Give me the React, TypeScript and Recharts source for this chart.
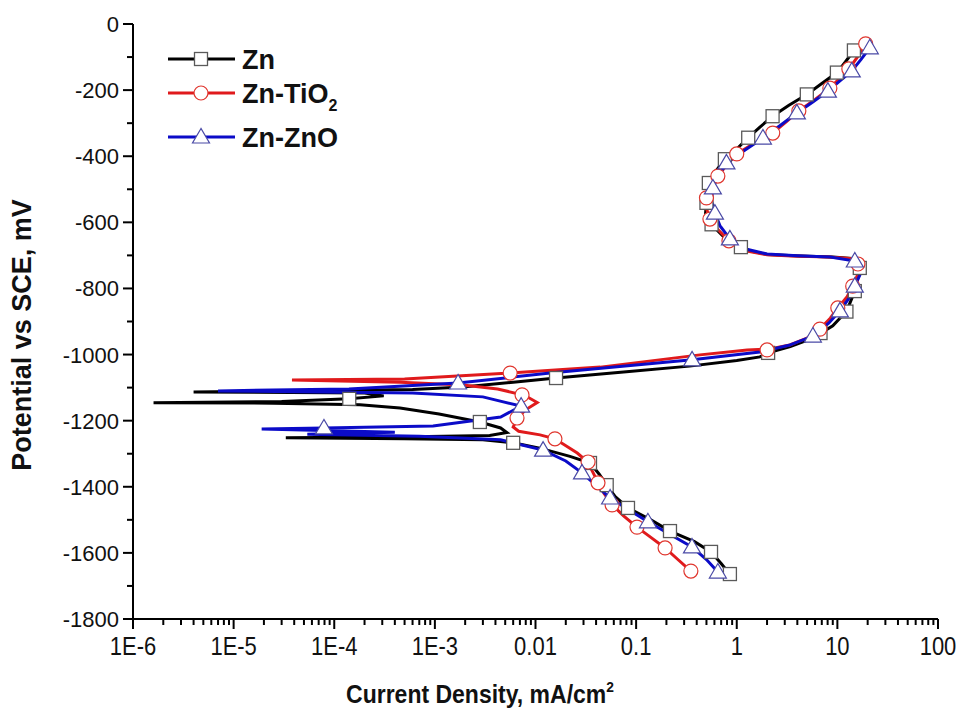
import React from 'react';
import { ComposedChart, Line, XAxis, YAxis, Legend } from 'recharts';

const FONT = "'Liberation Sans', Arial, Helvetica, sans-serif";

// x axis: log decades (mA/cm2)
const xDecades = [1e-6, 1e-5, 1e-4, 1e-3, 0.01, 0.1, 1, 10, 100];
const xDecadeLabels = ['1E-6', '1E-5', '1E-4', '1E-3', '0.01', '0.1', '1', '10', '100'];
const xMinorSteps = [2, 3, 4, 5, 6, 7, 8, 9];
const xTicks = [
  ...xDecades,
  ...xDecades.slice(0, -1).flatMap((d) => xMinorSteps.map((m) => d * m)),
].sort((a, b) => a - b);

// y axis: potential (mV)
const yTicks = [
  -1800, -1700, -1600, -1500, -1400, -1300, -1200, -1100, -1000, -900,
  -800, -700, -600, -500, -400, -300, -200, -100, 0,
];

const seriesNames = ['Zn', 'Zn-TiO', 'Zn-ZnO'];
const seriesSubs = ['', '2', ''];

// [current density mA/cm2, potential mV], in scan order
const znCurve = [
  [0.84, -1662], [0.7, -1632], [0.555, -1597], [0.38, -1566], [0.217, -1534],
  [0.14, -1500], [0.083, -1464], [0.062, -1430], [0.051, -1395], [0.043, -1362],
  [0.035, -1328], [0.022, -1308], [0.011, -1283], [0.006, -1267], [0.003, -1258],
  [0.0005, -1255], [3.3e-5, -1252], [0.0006, -1249], [0.0035, -1245], [0.0052, -1236],
  [0.0045, -1222], [0.0028, -1204], [0.0011, -1180], [0.00045, -1162], [0.00018, -1152],
  [2.5e-5, -1147], [1.6e-6, -1146], [3e-5, -1142], [0.00014, -1134], [0.00031, -1125],
  [0.0002, -1116], [4e-6, -1113], [4e-5, -1110], [0.0006, -1106], [0.0019, -1098],
  [0.006, -1084], [0.016, -1071], [0.08, -1052], [0.34, -1035], [1.0, -1018],
  [1.7, -1007], [2.05, -995], [3.4, -976], [5.7, -950], [9.0, -913],
  [12.4, -868], [14.9, -808], [16.0, -768], [16.7, -738], [14.9, -710],
  [9.0, -705], [4.2, -702], [2.0, -697], [1.4, -688], [1.1, -675],
  [0.75, -645], [0.56, -606], [0.49, -572], [0.5, -541], [0.51, -510],
  [0.53, -481], [0.62, -445], [0.76, -409], [1.0, -378], [1.3, -344],
  [1.7, -312], [2.27, -279], [3.3, -246], [4.97, -213], [7.0, -180],
  [9.9, -147], [12, -115], [14.6, -80], [15.8, -66],
];
const znMarks = [
  [0.855, -1664], [0.555, -1597], [0.217, -1534], [0.083, -1464], [0.051, -1395],
  [0.0348, -1328], [0.006, -1267], [0.0028, -1204], [0.000141, -1134], [0.016, -1071],
  [2.05, -995], [6.8, -935], [12.3, -870], [14.9, -808], [16.7, -738],
  [1.1, -675], [0.562, -606], [0.5, -541], [0.528, -481], [0.762, -409],
  [1.3, -344], [2.27, -279], [4.97, -213], [9.89, -147], [14.6, -80],
];

const tio2Curve = [
  [0.35, -1655], [0.26, -1620], [0.194, -1585], [0.14, -1553], [0.102, -1522],
  [0.075, -1488], [0.058, -1455], [0.048, -1420], [0.042, -1388], [0.037, -1355],
  [0.033, -1325], [0.026, -1298], [0.0156, -1255], [0.0111, -1243], [0.0068, -1232],
  [0.006, -1219], [0.0066, -1192], [0.0079, -1168], [0.0104, -1145], [0.0085, -1130],
  [0.0074, -1122], [0.0042, -1104], [0.0019, -1092], [0.00045, -1084], [3.8e-5, -1077],
  [0.0005, -1074], [0.0056, -1056], [0.044, -1038], [0.43, -1001], [1.27, -986],
  [2.13, -983], [3.37, -971], [5.0, -950], [6.7, -923], [8.5, -890],
  [10.1, -859], [12.5, -825], [14.2, -793], [15.8, -760], [16.0, -726],
  [14.5, -710], [8.0, -705], [3.5, -702], [2.0, -698], [1.3, -688],
  [1.05, -675], [0.836, -656], [0.65, -622], [0.541, -590], [0.5, -558],
  [0.5, -526], [0.56, -492], [0.649, -460], [0.8, -425], [1.0, -393],
  [1.5, -360], [2.28, -330], [3.1, -296], [4.14, -263], [6.0, -228],
  [8.42, -194], [10.5, -165], [13.0, -136], [16, -98], [19.1, -60],
];
const tio2Marks = [
  [0.35, -1655], [0.194, -1585], [0.102, -1522], [0.0577, -1455], [0.0418, -1388],
  [0.0333, -1325], [0.0156, -1255], [0.00655, -1192], [0.00735, -1122], [0.0056, -1056],
  [2.0, -986], [6.7, -923], [10.1, -859], [14.2, -793], [16.0, -726],
  [0.836, -656], [0.541, -590], [0.5, -526], [0.649, -460], [1.0, -393],
  [2.28, -330], [4.14, -263], [8.42, -194], [13.0, -136], [19.1, -60],
];

const znoCurve = [
  [0.649, -1658], [0.5, -1620], [0.359, -1582], [0.22, -1545], [0.131, -1506],
  [0.085, -1470], [0.0551, -1434], [0.04, -1396], [0.029, -1358], [0.02, -1322],
  [0.0119, -1289], [0.0045, -1258], [0.0007, -1247], [5.4e-5, -1241], [0.0004, -1235],
  [1.9e-5, -1225], [7.9e-5, -1222], [0.00096, -1216], [0.0045, -1189], [0.0072, -1156],
  [0.003, -1128], [0.0006, -1116], [7e-6, -1110], [0.00014, -1104], [0.0017, -1086],
  [0.014, -1056], [0.36, -1016], [1.7, -992], [3.3, -972], [5.71, -944],
  [8.2, -905], [10.6, -868], [13, -830], [14.9, -793], [16.7, -760],
  [14.9, -717], [8.5, -705], [4.0, -701], [2.0, -696], [1.2, -680],
  [0.855, -650], [0.68, -610], [0.607, -572], [0.56, -534], [0.579, -496],
  [0.66, -458], [0.79, -420], [1.2, -382], [1.82, -345], [2.7, -307],
  [3.96, -269], [5.7, -236], [8.05, -203], [10.6, -172], [13.9, -142],
  [17.2, -107], [21.0, -72],
];
const znoMarks = [
  [0.649, -1658], [0.359, -1582], [0.131, -1506], [0.0551, -1434], [0.029, -1358],
  [0.0119, -1289], [7.9e-5, -1222], [0.0072, -1156], [0.0017, -1086], [0.36, -1016],
  [5.71, -944], [10.6, -868], [14.9, -793], [14.9, -717], [0.855, -650],
  [0.607, -572], [0.579, -496], [0.79, -420], [1.82, -345], [3.96, -269],
  [8.05, -203], [13.9, -142], [21.0, -72],
];

const toPts = (rows: number[][]) => rows.map(([i, E]) => ({ i, E }));

const COLORS = ['#000000', '#e01a1c', '#0b0bc8'];
const MARK_STROKE = ['#5a5a5a', '#e0362e', '#4a4aa6'];

function Marker({ kind, cx, cy }: { kind: number; cx: number; cy: number }) {
  if (kind === 0)
    return <rect x={cx - 6.5} y={cy - 6.5} width={13} height={13} fill="#fff" stroke={MARK_STROKE[0]} strokeWidth={1.3} />;
  if (kind === 1)
    return <circle cx={cx} cy={cy} r={7} fill="#fff" stroke={MARK_STROKE[1]} strokeWidth={1.2} />;
  return (
    <polygon
      points={`${cx},${cy - 8.5} ${cx - 8.5},${cy + 6} ${cx + 8.5},${cy + 6}`}
      fill="#fff"
      stroke={MARK_STROKE[2]}
      strokeWidth={1.2}
    />
  );
}

const markDot = (kind: number) => (props: any) => {
  const { cx, cy, index } = props;
  if (cx == null || cy == null) return <g key={index} />;
  return (
    <g key={index}>
      <Marker kind={kind} cx={cx} cy={cy} />
    </g>
  );
};

function XTick(props: any) {
  const { x, y, payload } = props;
  const v = payload.value;
  const idx = xDecades.findIndex((d) => Math.abs(d - v) / d < 1e-6);
  const major = idx >= 0;
  return (
    <g>
      <line x1={x} x2={x} y1={y} y2={y + (major ? 10 : 6)} stroke="#000" strokeWidth={2} />
      {major && (
        <text
          transform={`translate(${x},${y + 36}) scale(0.88,1)`}
          textAnchor="middle"
          fontSize={25}
          fontFamily={FONT}
          fill="#111"
        >
          {xDecadeLabels[idx]}
        </text>
      )}
    </g>
  );
}

function YTick(props: any) {
  const { x, y, payload } = props;
  const v = payload.value;
  const major = v % 200 === 0;
  return (
    <g>
      <line x1={x} x2={x - (major ? 10 : 6)} y1={y} y2={y} stroke="#000" strokeWidth={2} />
      {major && (
        <text x={x - 14} y={y + 8} textAnchor="end" fontSize={22} fontFamily={FONT} fill="#111">
          {v}
        </text>
      )}
    </g>
  );
}

function XTitle() {
  return (
    <text
      transform="translate(480,703) scale(0.92,1)"
      textAnchor="middle"
      fontSize={25}
      fontWeight="bold"
      fontFamily={FONT}
      fill="#111"
    >
      Current Density, mA/cm
      <tspan dy={-11} fontSize={15}>2</tspan>
    </text>
  );
}

function YTitle() {
  return (
    <text
      transform="translate(31,335) rotate(-90)"
      textAnchor="middle"
      fontSize={27}
      fontWeight="bold"
      fontFamily={FONT}
      fill="#111"
    >
      Potential vs SCE, mV
    </text>
  );
}

function LegendBox() {
  const rowY = [20, 54, 98];
  return (
    <svg width={280} height={130}>
      {seriesNames.map((name, k) => (
        <g key={name}>
          <line x1={2} x2={69} y1={rowY[k]} y2={rowY[k]} stroke={COLORS[k]} strokeWidth={3} />
          <Marker kind={k} cx={35} cy={rowY[k]} />
          <text x={76} y={rowY[k] + 10} fontSize={27} fontWeight="bold" fontFamily={FONT} fill="#111">
            {name}
            {seriesSubs[k] && (
              <tspan dy={8} fontSize={16}>
                {seriesSubs[k]}
              </tspan>
            )}
          </text>
        </g>
      ))}
    </svg>
  );
}

const curves = [toPts(znCurve), toPts(tio2Curve), toPts(znoCurve)];
const marks = [toPts(znMarks), toPts(tio2Marks), toPts(znoMarks)];

export default function App() {
  return (
    <div style={{ position: 'absolute', left: 0, top: 0, width: 961, height: 712, background: '#fff' }}>
      <ComposedChart width={961} height={712} margin={{ top: 24, right: 23, bottom: 0, left: 0 }}>
        <XAxis
          xAxisId="b"
          dataKey="i"
          type="number"
          scale="log"
          domain={[1e-6, 100]}
          allowDataOverflow
          ticks={xTicks}
          interval={0}
          tick={<XTick />}
          tickLine={false}
          tickSize={0}
          tickMargin={0}
          height={93}
          axisLine={{ stroke: '#000', strokeWidth: 2 }}
          label={<XTitle />}
        />
        <XAxis
          xAxisId="t"
          orientation="top"
          dataKey="i"
          type="number"
          scale="log"
          domain={[1e-6, 100]}
          allowDataOverflow
          tick={false}
          tickLine={false}
          height={0}
          axisLine={{ stroke: '#000', strokeWidth: 2 }}
        />
        <YAxis
          yAxisId="l"
          dataKey="E"
          type="number"
          domain={[-1800, 0]}
          allowDataOverflow
          ticks={yTicks}
          interval={0}
          tick={<YTick />}
          tickLine={false}
          tickSize={0}
          tickMargin={0}
          width={133}
          axisLine={{ stroke: '#000', strokeWidth: 2 }}
          label={<YTitle />}
        />
        <YAxis
          yAxisId="r"
          orientation="right"
          dataKey="E"
          type="number"
          domain={[-1800, 0]}
          allowDataOverflow
          tick={false}
          tickLine={false}
          width={0}
          axisLine={{ stroke: '#000', strokeWidth: 2 }}
        />
        {curves.map((data, k) => [
          <Line
            key={`c${k}`}
            xAxisId="b"
            yAxisId="l"
            data={data}
            dataKey="E"
            type="linear"
            stroke={COLORS[k]}
            strokeWidth={3}
            dot={false}
            activeDot={false}
            isAnimationActive={false}
            legendType="none"
          />,
          <Line
            key={`m${k}`}
            xAxisId="b"
            yAxisId="l"
            data={marks[k]}
            dataKey="E"
            type="linear"
            stroke="none"
            dot={markDot(k)}
            activeDot={false}
            isAnimationActive={false}
            legendType="none"
          />,
        ])}
        <Legend
          layout="vertical"
          align="center"
          verticalAlign="middle"
          content={<LegendBox />}
          wrapperStyle={{ left: 166, top: 39, width: 280, height: 130 }}
        />
      </ComposedChart>
    </div>
  );
}
